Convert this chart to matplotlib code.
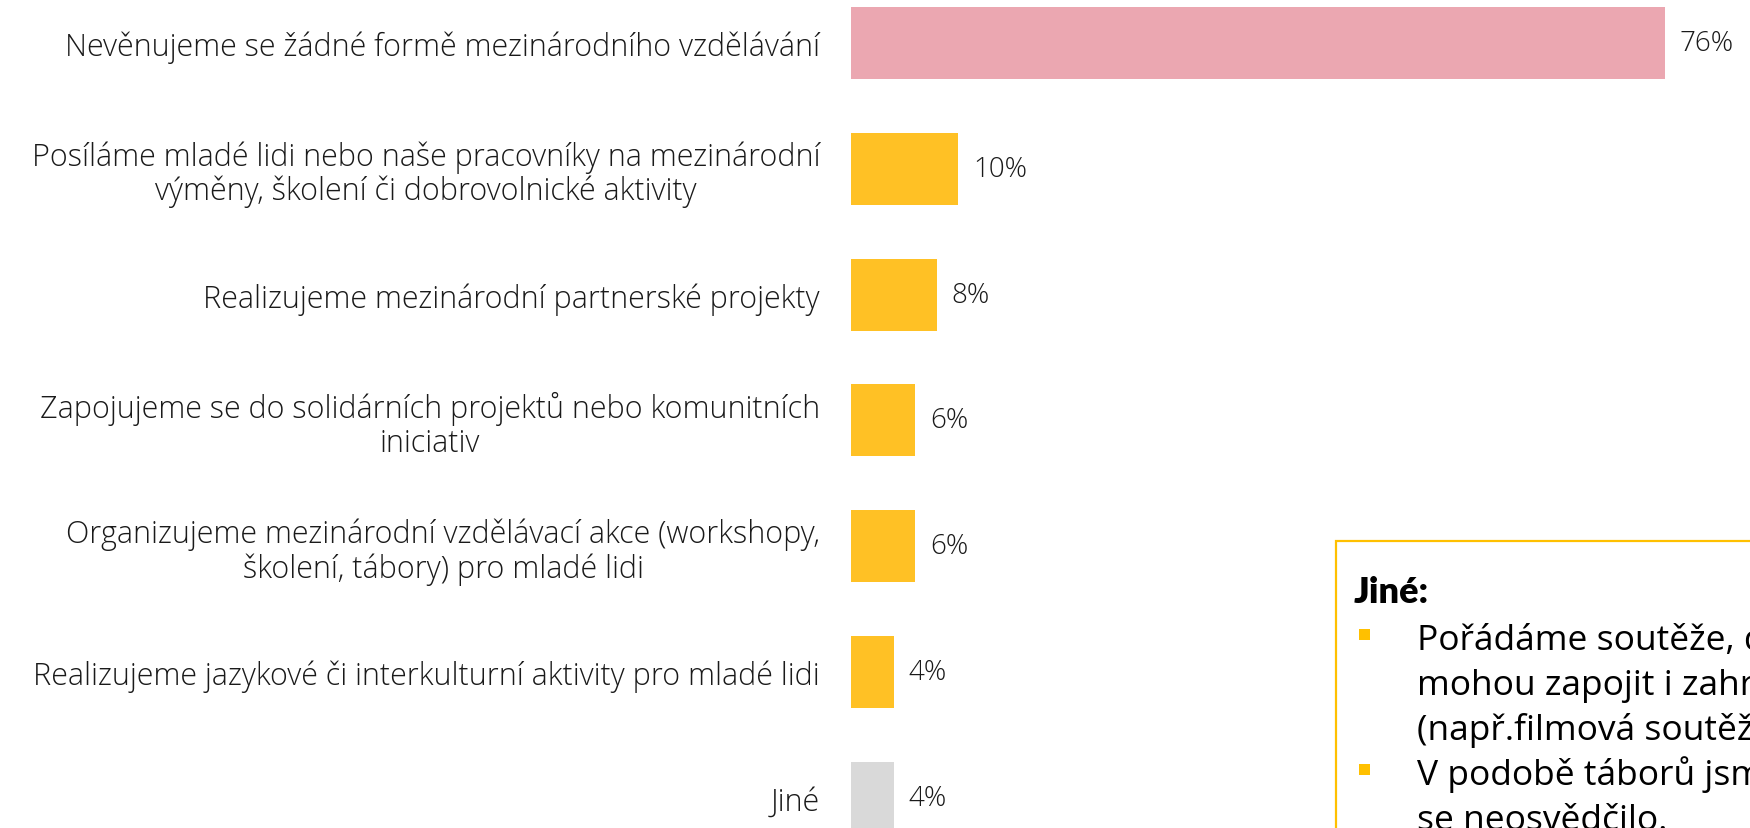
import matplotlib
matplotlib.use('Agg')
import matplotlib.pyplot as plt
from matplotlib.patches import Rectangle

plt.rcParams['font.family'] = ['Open Sans', 'DejaVu Sans']

categories = [
    "Nevěnujeme se žádné formě mezinárodního vzdělávání",
    "Posíláme mladé lidi nebo naše pracovníky na mezinárodní\nvýměny, školení či dobrovolnické aktivity",
    "Realizujeme mezinárodní partnerské projekty",
    "Zapojujeme se do solidárních projektů nebo komunitních\niniciativ",
    "Organizujeme mezinárodní vzdělávací akce (workshopy,\nškolení, tábory) pro mladé lidi",
    "Realizujeme jazykové či interkulturní aktivity pro mladé lidi",
    "Jiné",
]
values = [76, 10, 8, 6, 6, 4, 4]
bar_colors = ['#EBA7B1', '#FFC125', '#FFC125', '#FFC125', '#FFC125', '#FFC125', '#D9D9D9']

other_title = "Jiné:"
# (text line, starts a new bullet)
other_lines = [
    ("Pořádáme soutěže, do kterých se", True),
    ("mohou zapojit i zahraniční účastníci", False),
    ("(např.filmová soutěž)", False),
    ("V podobě táborů jsme to zkoušeli, ale", True),
    ("se neosvědčilo.", False),
]

W, H = 1750, 829
fig = plt.figure(figsize=(W / 100, H / 100), dpi=100)
fig.patch.set_facecolor('white')

# axes: bars start at x=851 px, 10.71 px per percent, rows 125.8 px apart
ax = fig.add_axes([851 / W, 0, (W - 851) / W, 1])
ax.set_xlim(0, (W - 851) / 10.71)
ax.set_ylim((H - 44) / 125.8, -44 / 125.8)

ypos = list(range(len(values)))
ax.barh(ypos, values, height=0.572, color=bar_colors)

for y, v in zip(ypos, values):
    ax.text(v + 1.4, y, f"{v}%", va='center', ha='left', fontsize=20,
            fontweight='light', color='#1a1a1a')

ax.set_yticks(ypos)
ax.set_yticklabels(categories, fontsize=22, fontweight='light', color='#1a1a1a')
for lbl in ax.get_yticklabels():
    lbl.set_multialignment('center')
    lbl.set_linespacing(1.08)
ax.tick_params(axis='y', length=0, pad=22.3)
ax.set_xticks([])
for s in ax.spines.values():
    s.set_visible(False)

# "Jiné" comment box, running off the right/bottom edge
box_x, box_top = 1336 / W, 1 - 542 / H
fig.add_artist(Rectangle((box_x, -0.1), 0.4, box_top + 0.1, transform=fig.transFigure,
                         facecolor='white', edgecolor='#FFC000', linewidth=1.6))

fig.text(1354 / W, 1 - 603 / H, other_title, ha='left', va='baseline', fontsize=26,
         fontweight='heavy', family=['Lato', 'DejaVu Sans'], color='black')

for i, (line, bullet) in enumerate(other_lines):
    base = 650 + 45 * i
    fig.text(1417 / W, 1 - base / H, line, ha='left', va='baseline', fontsize=25.5,
             color='black')
    if bullet:
        fig.add_artist(Rectangle((1359 / W, 1 - (base - 9) / H), 11 / W, 11 / H,
                                 transform=fig.transFigure, facecolor='#FFC000',
                                 edgecolor='none'))

fig.savefig('out.png', dpi=100)
